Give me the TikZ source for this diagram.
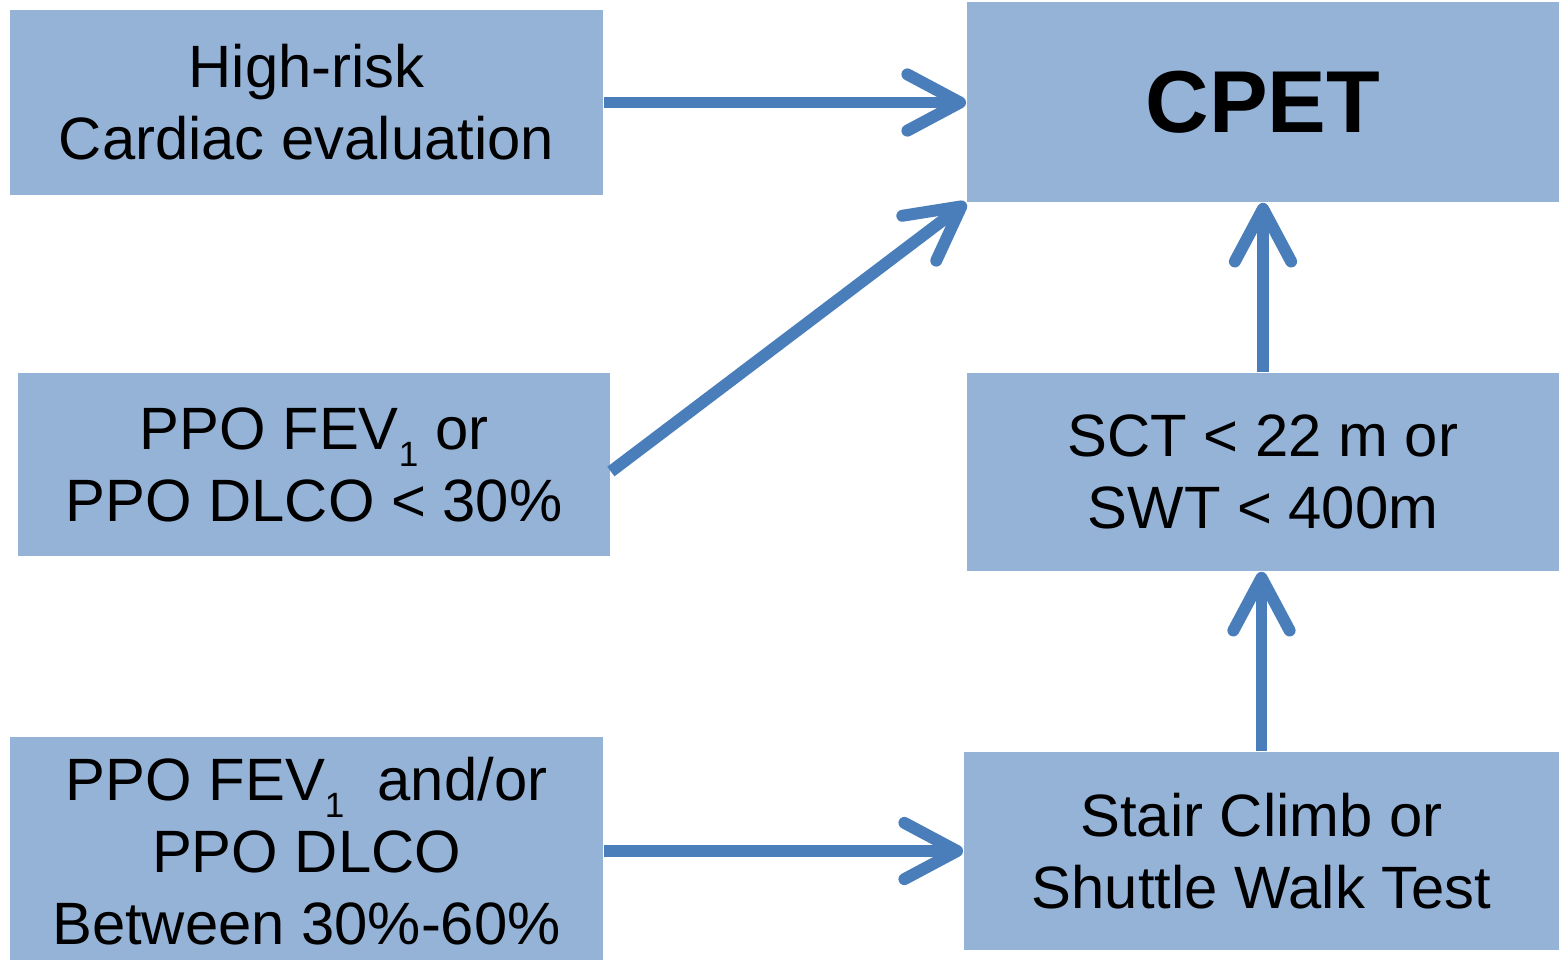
\documentclass[tikz,border=0pt]{standalone}
\usepackage{fontspec}
\setmainfont{Liberation Sans}
\usetikzlibrary{arrows.meta}
\definecolor{boxblue}{HTML}{95B3D7}
\definecolor{arrowblue}{HTML}{4A7EBB}
\newcommand{\lowsub}[1]{\raisebox{-0.55ex}{\fontsize{10}{10}\selectfont #1}}

\begin{document}
\begin{tikzpicture}[x=0.01cm, y=-0.01cm,
  box/.style={fill=boxblue, inner sep=0pt, align=center,
    font=\fontsize{17}{20.5}\selectfont},
  flow/.style={draw=arrowblue, line width=3.4pt,
    -{Straight Barb[length=15pt, width=16pt, round]}}]
  \useasboundingbox (0,0) rectangle (1559,960);
  % left column
  \node[box, minimum width=5.93cm, minimum height=1.85cm] (hrisk) at (306.5,102.5)
    {High-risk\\Cardiac evaluation};
  \node[box, minimum width=5.92cm, minimum height=1.83cm] (ppo) at (314,464.5)
    {PPO FEV\lowsub{1} or\\PPO DLCO < 30\%};
  \node[box, minimum width=5.93cm, minimum height=2.28cm] (betw) at (306.5,851)
    {PPO FEV\lowsub{1}\ \ and/or\\PPO DLCO\\Between 30\%-60\%};
  % right column
  \node[box, minimum width=5.92cm, minimum height=2.0cm,
    font=\bfseries\fontsize{25}{30}\selectfont] (cpet) at (1263,102) {CPET};
  \node[box, minimum width=5.92cm, minimum height=1.98cm] (sct) at (1263,472)
    {SCT < 22 m or\\SWT < 400m};
  \node[box, minimum width=5.95cm, minimum height=1.98cm] (stair) at (1261.5,851)
    {Stair Climb or\\Shuttle Walk Test};
  % arrows
  \draw[flow] (hrisk.east) -- (hrisk.east -| cpet.west);
  \draw[flow] ([yshift=-2pt]ppo.east) -- (cpet.south west);
  \draw[flow] (sct.north) -- (cpet.south);
  \draw[flow] (stair.north) -- (stair.north |- sct.south);
  \draw[flow] (betw.east) -- (betw.east -| stair.west);
\end{tikzpicture}
\end{document}
